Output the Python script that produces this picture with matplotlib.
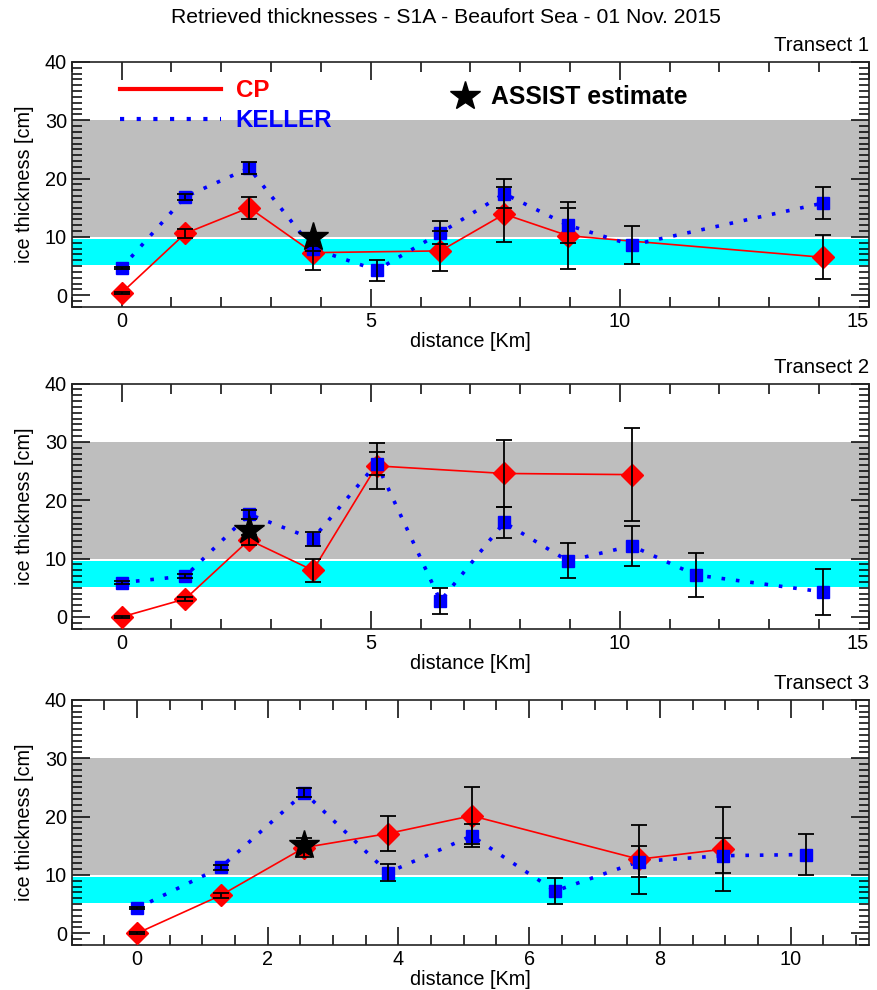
import numpy as np
import matplotlib.pyplot as plt
from matplotlib.lines import Line2D
from matplotlib.ticker import MultipleLocator

plt.rcParams['font.family'] = ['Liberation Sans', 'DejaVu Sans']

# ---- data (distance in km, thickness in cm) ----
cp_x1 = [0, 1.28, 2.56, 3.84, 6.40, 7.68, 8.96, 14.08]
cp_y1 = [0.4, 10.6, 15.0, 7.3, 7.6, 13.9, 10.2, 6.5]
cp_e1 = [0.2, 0.8, 1.9, 3.0, 3.4, 4.7, 5.7, 3.8]
kel_x1 = [0, 1.28, 2.56, 3.84, 5.12, 6.40, 7.68, 8.96, 10.24, 14.08]
kel_y1 = [4.7, 16.9, 21.8, 8.0, 4.3, 10.7, 17.4, 12.0, 8.6, 15.8]
kel_e1 = [0.2, 0.5, 1.0, 0.5, 1.8, 2.0, 2.5, 3.0, 3.3, 2.8]
star_x1 = [3.84]
star_y1 = [10.0]

cp_x2 = [0, 1.28, 2.56, 3.84, 5.12, 7.68, 10.24]
cp_y2 = [0.0, 3.1, 13.2, 8.0, 25.9, 24.6, 24.4]
cp_e2 = [0.2, 0.3, 0.9, 2.0, 4.0, 5.8, 8.0]
kel_x2 = [0, 1.28, 2.56, 3.84, 5.12, 6.40, 7.68, 8.96, 10.24, 11.52, 14.08]
kel_y2 = [5.9, 7.0, 17.6, 13.4, 26.3, 2.75, 16.2, 9.6, 12.2, 7.2, 4.3]
kel_e2 = [0.2, 0.3, 0.8, 1.2, 1.9, 2.3, 2.6, 3.0, 3.4, 3.7, 4.0]
star_x2 = [2.56]
star_y2 = [14.9]

cp_x3 = [0, 1.28, 2.56, 3.84, 5.12, 7.68, 8.96]
cp_y3 = [0.0, 6.5, 14.7, 17.1, 20.15, 12.7, 14.4]
cp_e3 = [0.2, 0.4, 1.6, 3.0, 4.85, 5.9, 7.2]
kel_x3 = [0, 1.28, 2.56, 3.84, 5.12, 6.40, 7.68, 8.96, 10.24]
kel_y3 = [4.3, 11.3, 24.1, 10.4, 16.7, 7.25, 12.3, 13.3, 13.5]
kel_e3 = [0.2, 0.4, 0.8, 1.45, 1.95, 2.25, 2.65, 3.0, 3.45]
star_x3 = [2.56]
star_y3 = [15.2]

thin_band = (5.2, 9.6)
thick_band = (10, 30)

xticks_long = [0, 5, 10, 15]
xticks_short = [0, 2, 4, 6, 8, 10]

transects = [
    (cp_x1, cp_y1, cp_e1, kel_x1, kel_y1, kel_e1, star_x1, star_y1, 'Transect 1'),
    (cp_x2, cp_y2, cp_e2, kel_x2, kel_y2, kel_e2, star_x2, star_y2, 'Transect 2'),
    (cp_x3, cp_y3, cp_e3, kel_x3, kel_y3, kel_e3, star_x3, star_y3, 'Transect 3'),
]
xlims = [(-1, 15), (-1, 15), (-1, 11.2)]
xticks = [xticks_long, xticks_long, xticks_short]
xminor = [1, 1, 0.5]

fig = plt.figure(figsize=(8.78, 9.9), dpi=100)
bottoms = [0.690, 0.365, 0.0455]
fs = 14.3

for i, (cx, cy, ce, kx, ky, ke, sx, sy, name) in enumerate(transects):
    ax = fig.add_axes([0.0817, bottoms[i], 0.908, 0.2475])
    ax.axhspan(*thick_band, color='#bebebe', lw=0, zorder=0)
    ax.axhspan(*thin_band, color='#00ffff', lw=0, zorder=0)

    ax.plot(cx, cy, color='red', lw=1.2, zorder=2)
    ax.plot(kx, ky, color='blue', lw=2.6, linestyle=(0, (1, 3)),
            dash_capstyle='butt', zorder=2)
    ax.plot(cx, cy, 'D', color='red', ms=11.5, mec='red', zorder=3)
    ax.plot(kx, ky, 's', color='blue', ms=9, mec='blue', zorder=3)
    ax.errorbar(cx, cy, yerr=ce, fmt='none', ecolor='black', elinewidth=1.3,
                capsize=6, capthick=1.3, zorder=4)
    ax.errorbar(kx, ky, yerr=ke, fmt='none', ecolor='black', elinewidth=1.3,
                capsize=6, capthick=1.3, zorder=4)
    ax.plot(sx, sy, '*', color='black', ms=22, zorder=5)

    ax.set_xlim(*xlims[i])
    ax.set_ylim(-2, 40)
    ax.set_xticks(xticks[i])
    ax.set_xticklabels([str(t) for t in xticks[i]])
    ax.xaxis.set_minor_locator(MultipleLocator(xminor[i]))
    ax.yaxis.set_major_locator(MultipleLocator(10))
    ax.yaxis.set_minor_locator(MultipleLocator(1))
    ax.tick_params(which='both', direction='in', top=True, right=True,
                   labelsize=fs, width=1.1)
    ax.tick_params(which='major', length=13)
    ax.tick_params(which='minor', length=7)
    for sp in ax.spines.values():
        sp.set_linewidth(1.2)
        sp.set_color('#222222')

    # last label sits against the right edge in the original
    if xticks[i][-1] == 15:
        ax.xaxis.get_major_ticks()[-1].label1.set_horizontalalignment('right')

    ax.set_xlabel('distance [Km]', fontsize=fs, labelpad=1)
    ax.set_ylabel('ice thickness [cm]', fontsize=fs, labelpad=8)
    ax.annotate(name, xy=(1, 1), xycoords='axes fraction', xytext=(0, 5),
                textcoords='offset points', ha='right', va='bottom', fontsize=14.6)

    if i == 0:
        h = [Line2D([], [], color='red', lw=3),
             Line2D([], [], color='blue', lw=3, linestyle=(0, (1, 3)))]
        leg = ax.legend(h, ['CP', 'KELLER'], loc='upper left',
                        bbox_to_anchor=(0.06, 0.93), frameon=False,
                        prop={'weight': 'bold', 'size': 17.4},
                        labelcolor=['red', 'blue'], handlelength=4.2,
                        handletextpad=0.6, labelspacing=0.3,
                        borderpad=0, borderaxespad=0)
        ax.add_artist(leg)
        hs = [Line2D([], [], color='black', marker='*', ms=22, lw=0)]
        ax.legend(hs, ['ASSIST estimate'], loc='center left',
                  bbox_to_anchor=(0.478, 0.855), frameon=False,
                  prop={'weight': 'bold', 'size': 17.8}, handlelength=1.0,
                  handletextpad=0.55, borderpad=0, borderaxespad=0)

fig.text(0.508, 0.982, 'Retrieved thicknesses - S1A - Beaufort Sea - 01 Nov. 2015',
         ha='center', va='center', fontsize=15.2)

fig.savefig('out.png', dpi=100)
